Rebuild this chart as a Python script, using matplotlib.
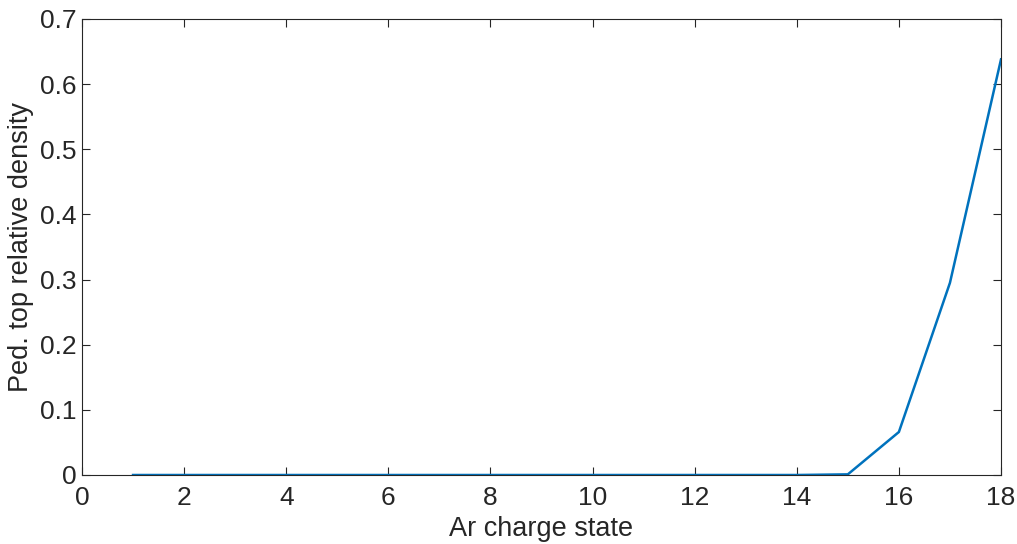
import numpy as np
import matplotlib.pyplot as plt

# charge state vs pedestal-top relative density
charge = [1, 2, 3, 4, 5, 6, 7, 8, 9, 10, 11, 12, 13, 14, 15, 16, 17, 18]
density = [0, 0, 0, 0, 0, 0, 0, 0, 0, 0, 0, 0, 0, 0, 0.001, 0.066, 0.295, 0.638]

plt.rcParams['font.family'] = ['Liberation Sans', 'DejaVu Sans']

fig = plt.figure(figsize=(10.17, 5.44), dpi=100)
ax = fig.add_axes([82 / 1017, 1 - 475 / 544, 919 / 1017, 456 / 544])

ax.plot(charge, density, color='#0072BD', lw=1.8)

ax.set_xlim(0, 18)
ax.set_ylim(0, 0.7)
ax.set_xticks(np.arange(0, 19, 2))
ax.set_yticks(np.arange(0, 0.71, 0.1))
ax.set_yticklabels(['0', '0.1', '0.2', '0.3', '0.4', '0.5', '0.6', '0.7'])
ax.tick_params(direction='in', length=6, width=0.8, top=True, right=True,
               labelsize=19, colors='#262626', pad=4)
ax.tick_params(axis='x', pad=8)
for s in ax.spines.values():
    s.set_color('#262626')
    s.set_linewidth(0.8)

ax.set_xlabel('Ar charge state', fontsize=19.5, color='#262626', labelpad=4)
ax.set_ylabel('Ped. top relative density', fontsize=19.5, color='#262626', labelpad=4)

fig.savefig('out.png', dpi=100)
